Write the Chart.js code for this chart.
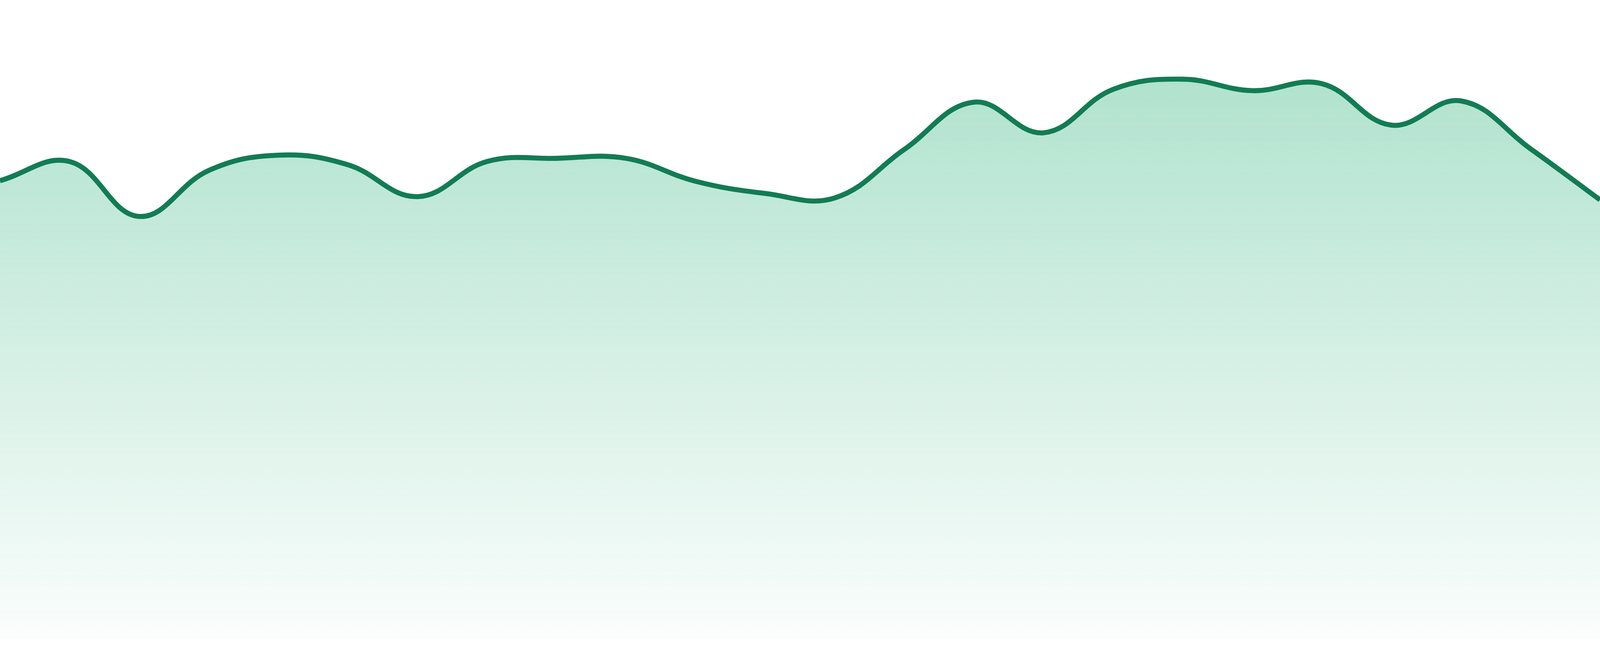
<!DOCTYPE html>
<html>
<head>
<meta charset="utf-8">
<title>Trend</title>
<script src="https://cdn.jsdelivr.net/npm/chart.js@4.4.1/dist/chart.umd.min.js"></script>
<style>
  html, body { margin: 0; padding: 0; background: #ffffff; overflow: hidden; }
  #wrap { position: relative; width: 100vw; height: 100vh; }
</style>
</head>
<body>
<div id="wrap"><canvas id="trend"></canvas></div>
<script>
// data (no axes shown, so units are relative 0-100)
var labels = ["1", "2", "3", "4", "5", "6", "7", "8", "9", "10", "11", "12",
              "13", "14", "15", "16", "17", "18", "19", "20", "21", "22", "23", "24"];
var values = [71.7, 74.7, 66.1, 73.3, 75.7, 74.2, 69.2, 74.7, 75.2, 75.2, 71.6, 69.7,
              69.0, 76.6, 84.0, 79.2, 86.0, 87.6, 85.8, 86.9, 80.4, 84.2, 76.7, 68.7];
var yMin = 0;
var yMax = 100;

var lineColor = "#127c54";

// the reference was drawn at 4800x1680, scale sizes to whatever the viewport is
var sx = window.innerWidth / 4800;
var sy = window.innerHeight / 1680;

const fillGradient = (ctx) => {
    var chart = ctx.chart;
    var area = chart.chartArea;
    if (!area) { return "rgba(22,170,110,0.2)"; }
    var g = chart.ctx.createLinearGradient(0, area.top, 0, area.bottom);
    g.addColorStop(0, "rgba(22,170,110,0.38)");
    g.addColorStop(1, "rgba(22,170,110,0.02)");
    return g;
}

new Chart("trend", {
  type: "line",
  data: {
    labels: labels,
    datasets: [{
      data: values,
      borderColor: lineColor,
      borderWidth: 15 * sx,
      backgroundColor: fillGradient,
      fill: "start",
      tension: 0.4,
      pointRadius: 0,
      pointHoverRadius: 0
    }]
  },
  options: {
    responsive: true,
    maintainAspectRatio: false,
    animation: false,
    layout: { padding: { top: 0, right: 0, bottom: Math.round(45 * sy), left: 0 } },
    plugins: {
      legend: { display: false },
      tooltip: { enabled: false }
    },
    scales: {
      x: { display: false },
      y: { display: false, min: yMin, max: yMax }
    }
  }
});
</script>
</body>
</html>
